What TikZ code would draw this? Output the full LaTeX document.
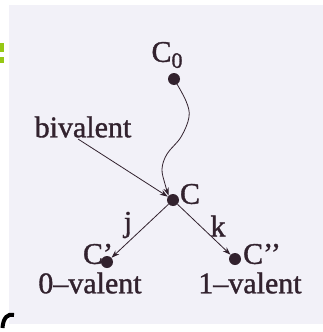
\documentclass[tikz,border=0pt]{standalone}
\usepackage{fontspec}
\setmainfont[FakeBold=1.2]{Liberation Serif}
\usetikzlibrary{arrows.meta}
\definecolor{paper}{RGB}{242,241,248}
\definecolor{ink}{RGB}{50,34,46}
\definecolor{lime}{RGB}{150,200,20}
\tikzset{
  lbl/.style={text=ink, inner sep=0pt, font=\fontsize{30}{30}\selectfont},
  dot/.style={circle, fill=ink, inner sep=0pt, minimum size=12pt},
  edge/.style={draw=ink, line width=0.8pt},
  tip/.style={-{Stealth[length=8pt,width=5.5pt]}}
}
\begin{document}
\begin{tikzpicture}[x=1pt,y=-1pt]
\useasboundingbox (0,0) rectangle (323,332);
\fill[white] (0,0) rectangle (323,332);
\fill[paper] (9,5) rectangle (323,324);
% edge fragments
\fill[lime] (0,43) rectangle (3.5,52);
\fill[lime] (0,57) rectangle (3.5,63);
\draw[black, line width=4pt] (2.5,328) .. controls (3,318) and (8,313) .. (14,315);
% nodes
\node[lbl] (c0lbl) at (167,55) {C\raisebox{-6pt}{\fontsize{22}{22}\selectfont 0}};
\node[dot] (c0) at (174,79) {};
\node[dot] (c) at (173,200) {};
\node[lbl] (clbl) at (190,194) {C};
\node[dot] (cp) at (107,262) {};
\node[dot] (cpp) at (235,259) {};
\node[lbl] (cplbl) at (98,254) {C’};
\node[lbl] (cpplbl) at (262,254) {C’’};
\node[lbl] (biv) at (83,127) {bivalent};
\node[lbl] (j) at (128,225) {j};
\node[lbl] (k) at (218,226) {k};
\node[lbl] (zero) at (90,283) {0–valent};
\node[lbl] (one) at (250,283) {1–valent};
\coordinate (bstart) at (78,139);
% connectors
\draw[edge, tip] plot[smooth, tension=0.6] coordinates {(c0) (186,101) (189,117) (181,137) (167,154) (162,169) (165,184) (c.north west)};
\draw[edge, tip] (bstart) -- (c);
\draw[edge, tip] (c) -- (cp);
\draw[edge, tip] (c) -- (cpp);
\end{tikzpicture}
\end{document}
